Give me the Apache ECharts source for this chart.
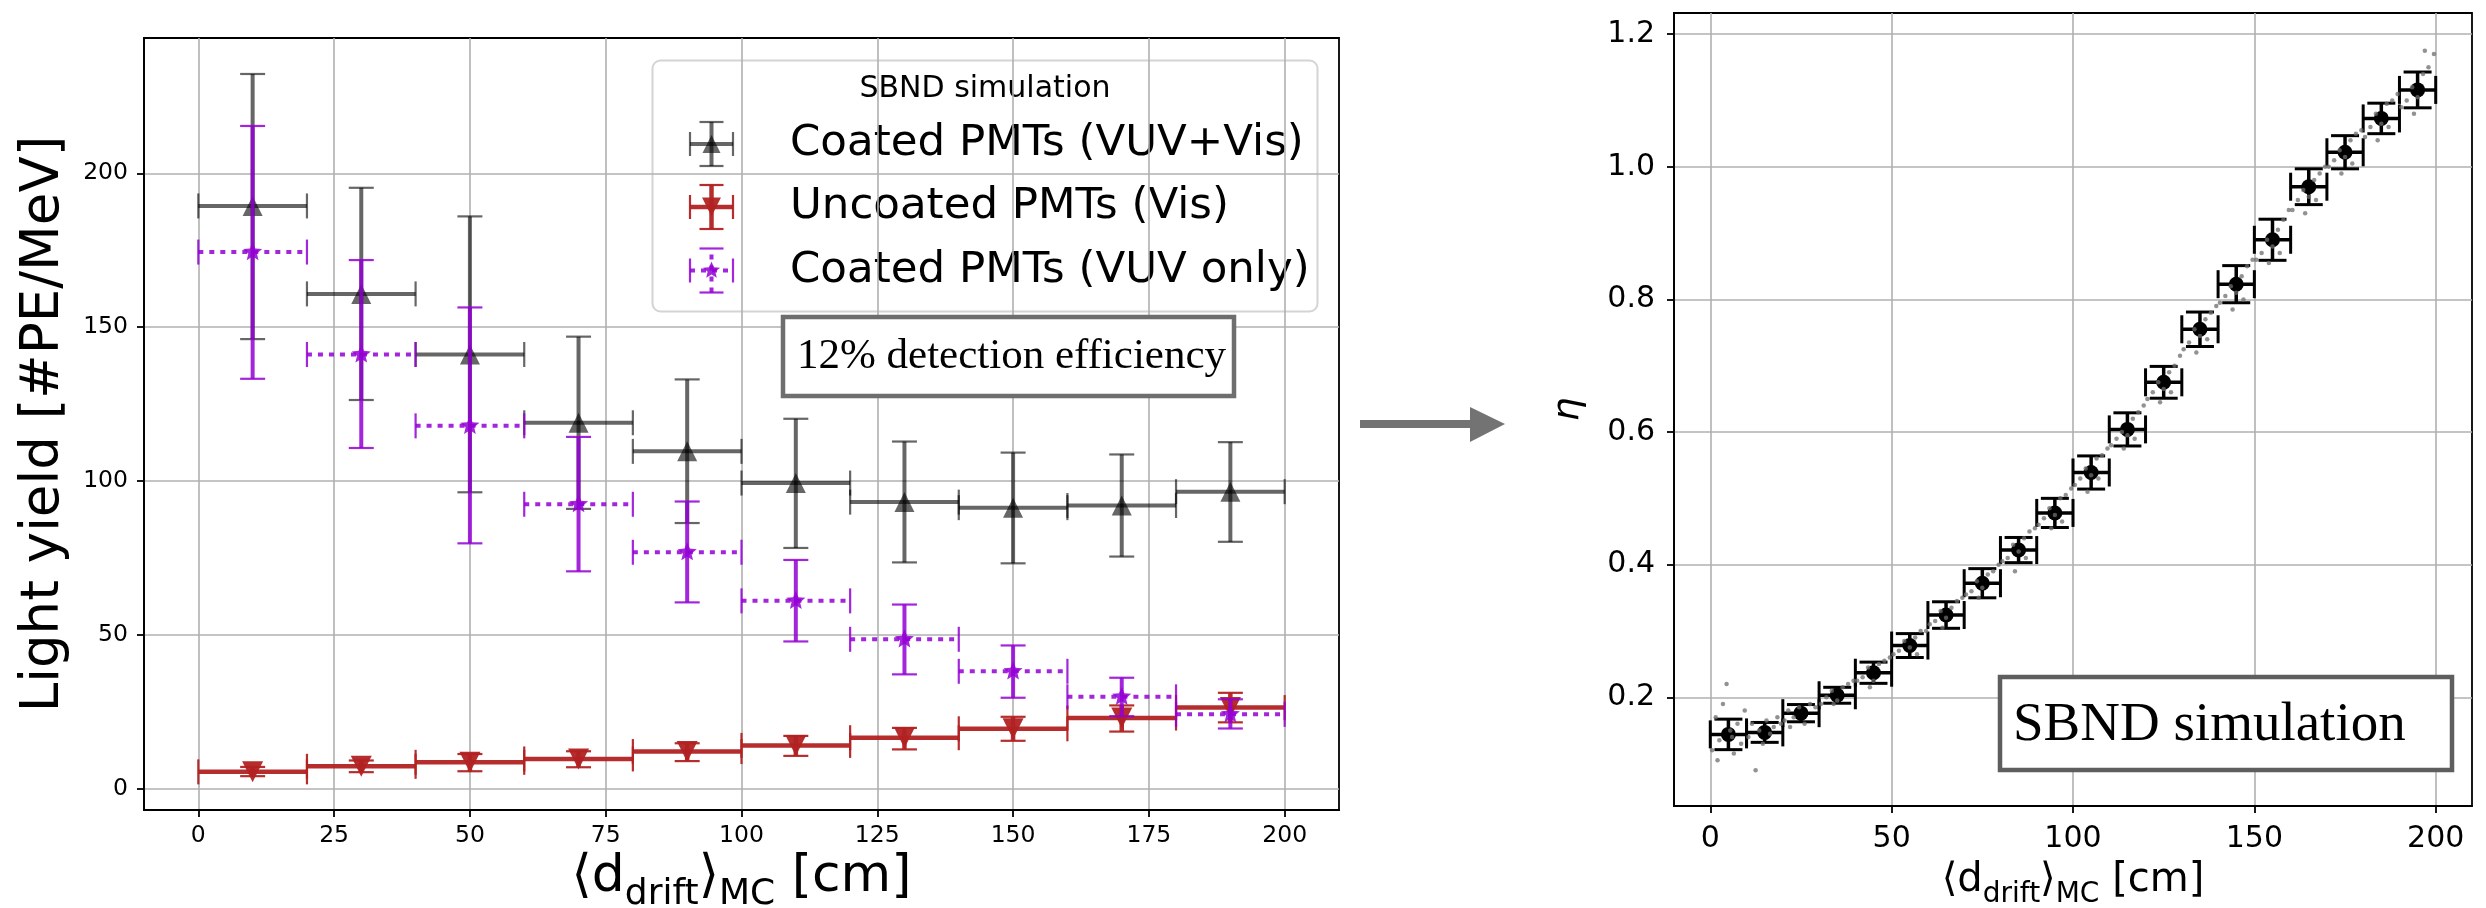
<!DOCTYPE html>
<html>
<head>
<meta charset="utf-8">
<script src="https://cdn.jsdelivr.net/npm/echarts@6/dist/echarts.min.js"></script>
<style>
html, body { margin: 0; padding: 0; background: #fff; }
#chart { width: 2486px; height: 908px; }
</style>
</head>
<body>
<div id="chart"></div>
<script>
'use strict';

/*-----Left panel data: light yield per drift bin-----*/
var driftEdges = [0, 20, 40, 60, 80, 100, 120, 140, 160, 180, 200];
var coatedVal = [189.4, 160.8, 141.1, 118.9, 109.6, 99.3, 93.1, 91.3, 92.0, 96.5];
var coatedLo  = [146.1, 126.3, 96.3, 90.9, 86.3, 78.2, 73.5, 73.2, 75.4, 80.2];
var coatedHi  = [232.3, 195.3, 186.0, 146.9, 133.0, 120.2, 112.8, 109.2, 108.6, 112.6];
var uncoatedVal = [5.4, 7.2, 8.5, 9.6, 12.0, 14.0, 16.5, 19.4, 22.9, 26.3];
var uncoatedLo  = [4.0, 5.3, 5.6, 6.9, 8.9, 10.6, 12.7, 15.5, 18.5, 21.5];
var uncoatedHi  = [7.0, 9.1, 11.2, 12.1, 14.7, 17.1, 19.7, 23.3, 27.0, 31.1];
var vuvVal = [174.4, 141.1, 117.9, 92.4, 76.8, 61.0, 48.5, 38.1, 29.8, 24.1];
var vuvLo  = [133.2, 110.7, 79.7, 70.6, 60.5, 47.8, 37.1, 29.5, 23.5, 19.5];
var vuvHi  = [215.4, 171.8, 156.4, 114.3, 93.3, 74.3, 59.8, 46.5, 36.0, 29.0];
var leftXTicks = [0, 25, 50, 75, 100, 125, 150, 175, 200];
var leftYTicks = [0, 50, 100, 150, 200];

/*-----Right panel data: eta per drift bin-----*/
var etaEdges = [0, 10, 20, 30, 40, 50, 60, 70, 80, 90, 100, 110, 120, 130, 140, 150, 160, 170, 180, 190, 200];
var etaVal = [0.144, 0.147, 0.176, 0.203, 0.237, 0.278, 0.324, 0.372, 0.422, 0.478,
              0.539, 0.604, 0.675, 0.755, 0.823, 0.890, 0.970, 1.022, 1.073, 1.116];
var etaErr = [0.023, 0.015, 0.013, 0.012, 0.016, 0.018, 0.020, 0.022, 0.019, 0.022,
              0.025, 0.025, 0.024, 0.026, 0.028, 0.031, 0.027, 0.025, 0.023, 0.027];
var etaDots = [
  [0.5,0.12],[1.5,0.17],[2.5,0.135],[3.5,0.19],[4.5,0.22],[5.5,0.15],[6.5,0.115],[7.5,0.16],[8.5,0.13],[9.5,0.18],[2,0.105],[6,0.14],
  [10.5,0.14],[11.5,0.16],[12.5,0.09],[13.5,0.15],[14.5,0.13],[15.5,0.165],[16.5,0.145],[17.5,0.155],[18.5,0.17],[19.5,0.16],
  [20.5,0.165],[21.5,0.18],[23,0.17],[24.5,0.185],[26,0.16],[27.5,0.19],[29,0.185],[22,0.155],
  [30.5,0.19],[32,0.2],[33.5,0.21],[35,0.195],[36.5,0.215],[38,0.22],[39.5,0.225],[34,0.19],
  [40.5,0.225],[42,0.23],[43.5,0.245],[45,0.225],[46.5,0.25],[48,0.255],[49.5,0.26],[44,0.215],
  [50.5,0.265],[52,0.27],[53.5,0.285],[55,0.275],[56.5,0.29],[58,0.3],[59.5,0.3],[57,0.265],
  [60.5,0.31],[62,0.315],[63.5,0.33],[65,0.32],[66.5,0.335],[68,0.345],[69.5,0.35],[64,0.305],
  [70.5,0.355],[72,0.36],[73.5,0.375],[75,0.365],[76.5,0.385],[78,0.39],[79.5,0.4],[74,0.35],
  [80.5,0.405],[82,0.41],[83.5,0.43],[85,0.42],[86.5,0.44],[88,0.45],[89.5,0.455],[84,0.39],[87,0.41],
  [90.5,0.46],[92,0.47],[93.5,0.485],[95,0.475],[96.5,0.5],[98,0.505],[99.5,0.515],[94,0.455],[97,0.465],
  [100.5,0.52],[102,0.53],[103.5,0.545],[105,0.535],[106.5,0.56],[108,0.565],[109.5,0.575],[104,0.51],[107,0.53],
  [110.5,0.58],[112,0.59],[113.5,0.6],[115,0.595],[116.5,0.62],[118,0.63],[119.5,0.64],[114,0.575],[117,0.59],
  [120.5,0.65],[122,0.66],[123.5,0.675],[125,0.665],[126.5,0.69],[128,0.7],[129.5,0.715],[124,0.645],[127,0.66],
  [130.5,0.725],[132,0.735],[133.5,0.755],[135,0.745],[136.5,0.77],[138,0.78],[139.5,0.79],[134,0.72],[137,0.74],
  [140.5,0.795],[142,0.805],[143.5,0.82],[145,0.81],[146.5,0.835],[148,0.85],[149.5,0.86],[144,0.785],[147,0.8],
  [150.5,0.86],[152,0.87],[153.5,0.89],[155,0.88],[156.5,0.905],[158,0.92],[159.5,0.935],[154,0.855],[157,0.87],
  [160.5,0.935],[162,0.95],[163.5,0.965],[165,0.955],[166.5,0.98],[168,0.99],[169.5,1.0],[164,0.93],[167,0.95],
  [170.5,1.0],[172,1.01],[173.5,1.025],[175,1.015],[176.5,1.04],[178,1.05],[179.5,1.055],[174,0.99],[177,1.005],
  [180.5,1.045],[182,1.06],[183.5,1.08],[185,1.065],[186.5,1.095],[188,1.1],[189.5,1.11],[184,1.04],[187,1.06],
  [190.5,1.09],[192,1.1],[193.5,1.12],[195,1.105],[196.5,1.14],[198,1.15],[199.5,1.17],[194,1.08],[197,1.175]
];
var rightXTicks = [0, 50, 100, 150, 200];
var rightYTicks = [0.2, 0.4, 0.6, 0.8, 1.0, 1.2];

var FONT = 'DejaVu Sans';
var SERIF = 'Liberation Serif';

function binRows(edges, val, lo, hi) {
	return val.map(function (v, i) { return [edges[i], edges[i + 1], v, lo[i], hi[i]]; });
}

/*-----marker shapes-----*/
function triPoints(c, r, up) {
	var s = up ? -1 : 1;
	return [[c[0], c[1] + s * r], [c[0] - r, c[1] - s * r], [c[0] + r, c[1] - s * r]];
}
function starPoints(c, R) {
	var pts = [];
	for (var k = 0; k < 10; k++) {
		var a = -Math.PI / 2 + k * Math.PI / 5;
		var r = k % 2 ? R * 0.45 : R;
		pts.push([c[0] + r * Math.cos(a), c[1] + r * Math.sin(a)]);
	}
	return pts;
}
function markerShape(kind, c, size, color) {
	if (kind === 'circle') {
		return { type: 'circle', shape: { cx: c[0], cy: c[1], r: size }, style: { fill: color } };
	}
	var pts = kind === 'star' ? starPoints(c, size) : triPoints(c, size, kind === 'up');
	return { type: 'polygon', shape: { points: pts }, style: { fill: color } };
}

/*-----error bar glyph (pixel space)-----*/
function errGlyph(a, b, c, top, bot, st) {
	var h = st.cap / 2;
	var ln = function (p, q, w, dash) {
		var style = { stroke: st.color, lineWidth: w };
		if (dash) style.lineDash = dash;
		return { type: 'line', shape: { x1: p[0], y1: p[1], x2: q[0], y2: q[1] }, style: style };
	};
	return [
		ln(a, b, st.width, st.dash),
		ln([a[0], a[1] - h], [a[0], a[1] + h], st.capWidth),
		ln([b[0], b[1] - h], [b[0], b[1] + h], st.capWidth),
		ln(bot, top, st.width, st.vdash),
		ln([top[0] - h, top[1]], [top[0] + h, top[1]], st.capWidth),
		ln([bot[0] - h, bot[1]], [bot[0] + h, bot[1]], st.capWidth),
		markerShape(st.marker, c, st.msize, st.mcolor)
	];
}

function errorRender(st) {
	return function (params, api) {
		var x0 = api.value(0), x1 = api.value(1), y = api.value(2);
		var xm = (x0 + x1) / 2;
		var a = api.coord([x0, y]), b = api.coord([x1, y]), c = api.coord([xm, y]);
		var top = api.coord([xm, api.value(4)]), bot = api.coord([xm, api.value(3)]);
		return { type: 'group', children: errGlyph(a, b, c, top, bot, st) };
	};
}

var stCoated = { color: 'rgba(0,0,0,0.6)', width: 4, capWidth: 2.2, cap: 25, marker: 'up', msize: 10, mcolor: 'rgba(0,0,0,0.6)' };
var stUncoated = { color: 'rgba(178,34,34,0.95)', width: 4.5, capWidth: 2.2, cap: 25, marker: 'down', msize: 10.5, mcolor: 'rgba(178,34,34,0.95)' };
var stVuv = { color: 'rgba(148,0,211,0.85)', width: 4, capWidth: 2.2, cap: 25, dash: [5, 6], marker: 'star', msize: 10, mcolor: 'rgba(148,0,211,0.85)' };
var stEta = { color: '#000', width: 3.5, capWidth: 3, cap: 28, marker: 'circle', msize: 7.5, mcolor: '#000' };

var axisLineStyle = { color: '#000', width: 1.8 };
var gridLineStyle = { color: '#b0b0b0', width: 1.6 };

function valueAxis(grid, min, max, ticks, fontSize, margin, fmt) {
	return {
		gridIndex: grid, type: 'value', min: min, max: max,
		axisLine: { show: true, onZero: false, lineStyle: axisLineStyle },
		axisTick: { show: true, customValues: ticks, length: 7, lineStyle: axisLineStyle },
		axisLabel: { customValues: ticks, fontSize: fontSize, fontFamily: FONT, color: '#000', margin: margin,
			formatter: fmt || function (v) { return String(v); } },
		splitLine: { show: true, lineStyle: gridLineStyle },
		nameMoveOverlap: false
	};
}

var xLeft = valueAxis(0, -10, 210, leftXTicks, 23.5, 14);
xLeft.name = '{m|⟨d}{s|drift}{m|⟩}{s|MC}{m| [cm]}';
xLeft.nameLocation = 'middle';
xLeft.nameGap = 31;
xLeft.nameTextStyle = { rich: {
	m: { fontSize: 52, fontFamily: FONT, color: '#000', lineHeight: 72 },
	s: { fontSize: 36, fontFamily: FONT, color: '#000', lineHeight: 36, verticalAlign: 'bottom' }
} };

var yLeft = valueAxis(0, -7, 244, leftYTicks, 23.5, 16);
yLeft.name = 'Light yield [#PE/MeV]';
yLeft.nameLocation = 'middle';
yLeft.nameGap = 73;
yLeft.nameTextStyle = { fontSize: 53, fontFamily: FONT, color: '#000' };

var xRight = valueAxis(1, -10, 210, rightXTicks, 30, 18);
xRight.name = '{m|⟨d}{s|drift}{m|⟩}{s|MC}{m| [cm]}';
xRight.nameLocation = 'middle';
xRight.nameGap = 47;
xRight.nameTextStyle = { rich: {
	m: { fontSize: 40, fontFamily: FONT, color: '#000', lineHeight: 56 },
	s: { fontSize: 28, fontFamily: FONT, color: '#000', lineHeight: 28, verticalAlign: 'bottom' }
} };

var yRight = valueAxis(1, 0.036, 1.232, rightYTicks, 30, 19, function (v) { return v.toFixed(1); });
yRight.name = 'η';
yRight.nameLocation = 'middle';
yRight.nameGap = 87;
yRight.nameTextStyle = { fontSize: 38, fontFamily: FONT, fontStyle: 'italic', color: '#000' };

/*-----legend & annotations-----*/
function legendGlyph(cx, cy, st) {
	var hw = 21.5, hv = 22;
	var s = Object.assign({}, st, { cap: 24, msize: st.msize * 0.9 });
	if (st.dash) s.vdash = st.dash;
	return errGlyph([cx - hw, cy], [cx + hw, cy], [cx, cy], [cx, cy - hv], [cx, cy + hv], s);
}
var legendRows = [
	{ label: 'Coated PMTs (VUV+Vis)', y: 144, st: stCoated },
	{ label: 'Uncoated PMTs (Vis)', y: 207, st: stUncoated },
	{ label: 'Coated PMTs (VUV only)', y: 270.5, st: stVuv }
];
var legendKids = [
	{ type: 'rect', shape: { x: 652.5, y: 60.5, width: 665, height: 251, r: 8 },
	  style: { fill: 'rgba(255,255,255,0.8)', stroke: '#d4d4d4', lineWidth: 2 } },
	{ type: 'text', x: 985, y: 89, style: { text: 'SBND simulation', font: '30px "DejaVu Sans"', fill: '#000', align: 'center', verticalAlign: 'middle' } }
];
legendRows.forEach(function (row) {
	legendKids = legendKids.concat(legendGlyph(711.5, row.y, row.st));
	legendKids.push({ type: 'text', x: 790, y: row.y, style: { text: row.label, font: '43.5px "DejaVu Sans"', fill: '#000', align: 'left', verticalAlign: 'middle' } });
});

var graphics = [
	{ type: 'group', z: 100, children: legendKids },
	{ type: 'rect', z: 100, shape: { x: 783, y: 317, width: 451, height: 79 }, style: { fill: '#fff', stroke: '#6e6e6e', lineWidth: 4.5 } },
	{ type: 'text', z: 101, x: 797, y: 357, style: { text: '12% detection efficiency', font: '43px "' + SERIF + '"', fill: '#000', align: 'left', verticalAlign: 'middle' } },
	{ type: 'rect', z: 100, shape: { x: 2000, y: 677, width: 452, height: 93 }, style: { fill: '#fff', stroke: '#5e5e5e', lineWidth: 4.5 } },
	{ type: 'text', z: 101, x: 2013, y: 725.5, style: { text: 'SBND simulation', font: '55px "' + SERIF + '"', fill: '#000', align: 'left', verticalAlign: 'middle' } },
	{ type: 'line', z: 100, shape: { x1: 1360, y1: 424, x2: 1472, y2: 424 }, style: { stroke: '#737373', lineWidth: 8 } },
	{ type: 'polygon', z: 100, shape: { points: [[1470, 407], [1505, 424], [1470, 442]] }, style: { fill: '#737373' } }
];

var chart = echarts.init(document.getElementById('chart'), null, { renderer: 'canvas' });
var option = {
	backgroundColor: '#fff',
	animation: false,
	textStyle: { fontFamily: FONT },
	grid: [
		{ left: 144, top: 38, width: 1195, height: 772, show: true, borderColor: '#000', borderWidth: 1.8, containLabel: false, outerBoundsMode: 'none' },
		{ left: 1674, top: 13, width: 798, height: 793, show: true, borderColor: '#000', borderWidth: 1.8, containLabel: false, outerBoundsMode: 'none' }
	],
	xAxis: [xLeft, xRight],
	yAxis: [yLeft, yRight],
	series: [{
		name: 'Coated PMTs (VUV+Vis)', type: 'custom', xAxisIndex: 0, yAxisIndex: 0,
		data: binRows(driftEdges, coatedVal, coatedLo, coatedHi),
		encode: { x: [0, 1], y: [2, 3, 4] }, renderItem: errorRender(stCoated), z: 3
	}, {
		name: 'Uncoated PMTs (Vis)', type: 'custom', xAxisIndex: 0, yAxisIndex: 0,
		data: binRows(driftEdges, uncoatedVal, uncoatedLo, uncoatedHi),
		encode: { x: [0, 1], y: [2, 3, 4] }, renderItem: errorRender(stUncoated), z: 4
	}, {
		name: 'Coated PMTs (VUV only)', type: 'custom', xAxisIndex: 0, yAxisIndex: 0,
		data: binRows(driftEdges, vuvVal, vuvLo, vuvHi),
		encode: { x: [0, 1], y: [2, 3, 4] }, renderItem: errorRender(stVuv), z: 5
	}, {
		name: 'eta', type: 'custom', xAxisIndex: 1, yAxisIndex: 1,
		data: binRows(etaEdges, etaVal,
			etaVal.map(function (v, i) { return v - etaErr[i]; }),
			etaVal.map(function (v, i) { return v + etaErr[i]; })),
		encode: { x: [0, 1], y: [2, 3, 4] }, renderItem: errorRender(stEta), z: 3
	}, {
		name: 'events', type: 'scatter', xAxisIndex: 1, yAxisIndex: 1,
		data: etaDots, symbol: 'circle', symbolSize: 4.5, large: false,
		itemStyle: { color: 'rgba(110,110,110,0.75)', opacity: 1 }, z: 6
	}],
	graphic: graphics
};
chart.setOption(option);
</script>
</body>
</html>
